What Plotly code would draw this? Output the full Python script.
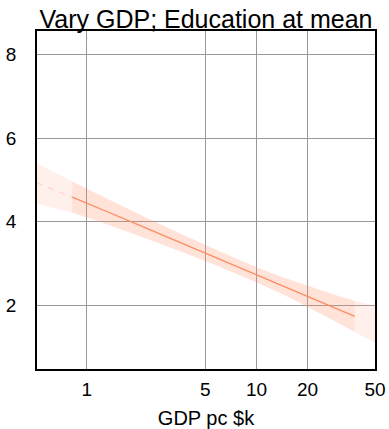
import plotly.graph_objects as go

# Predicted outcome across GDP per capita (thousand $), education held at its mean
gdp = [0.508, 0.82, 1.0, 1.3, 2.0, 3.0, 5.0, 7.0, 10.0, 14.0, 20.0, 28.0, 38.0, 50.0]
fit = [4.93, 4.59, 4.45, 4.25, 3.93, 3.63, 3.25, 3.00, 2.73, 2.48, 2.21, 1.96, 1.73, 1.53]
lower = [4.43, 4.22, 4.11, 3.94, 3.67, 3.41, 3.06, 2.82, 2.55, 2.28, 1.96, 1.65, 1.36, 1.10]
upper = [5.39, 4.96, 4.79, 4.56, 4.19, 3.85, 3.44, 3.18, 2.91, 2.68, 2.46, 2.27, 2.10, 1.99]

# Index range covered by observed data (outside it the fit is extrapolated)
obs_start, obs_end = 1, 12

x_ticks = [1, 5, 10, 20, 50]
y_ticks = [2, 4, 6, 8]

band_rgb = "252,141,98"
fig = go.Figure()

# Full-range confidence band (pale)
fig.add_trace(go.Scatter(x=gdp + gdp[::-1], y=upper + lower[::-1], fill="toself",
                         fillcolor=f"rgba({band_rgb},0.13)", line=dict(width=0),
                         mode="lines", hoverinfo="skip", showlegend=False))
# Observed-range band (deeper)
ox = gdp[obs_start:obs_end + 1]
fig.add_trace(go.Scatter(x=ox + ox[::-1],
                         y=upper[obs_start:obs_end + 1] + lower[obs_start:obs_end + 1][::-1],
                         fill="toself", fillcolor=f"rgba({band_rgb},0.13)", line=dict(width=0),
                         mode="lines", hoverinfo="skip", showlegend=False))
# Extrapolated fit (faint dashed)
for seg in (slice(0, obs_start + 1), slice(obs_end, len(gdp) - 1)):
    fig.add_trace(go.Scatter(x=gdp[seg], y=fit[seg], mode="lines",
                             line=dict(color=f"rgba({band_rgb},0.25)", width=1.5, dash="6px,6px"),
                             showlegend=False, hoverinfo="skip"))
# Fitted line over observed range
fig.add_trace(go.Scatter(x=ox, y=fit[obs_start:obs_end + 1], mode="lines",
                         line=dict(color=f"rgb({band_rgb})", width=1.3), showlegend=False))

font = "Liberation Sans, Arial, sans-serif"
fig.update_layout(
    width=389, height=429,
    margin=dict(l=37, r=14, t=31, b=60),
    paper_bgcolor="white", plot_bgcolor="white",
    font=dict(family=font, size=19, color="black"),
    title=dict(text="Vary GDP; Education at mean", x=0.5, xref="paper", xanchor="center",
               y=0.955, yref="container", yanchor="middle", font=dict(size=25)),
)
fig.update_xaxes(type="log", range=[-0.294, 1.699], tickvals=x_ticks,
                 ticktext=[str(v) for v in x_ticks], showgrid=True, gridcolor="#999999",
                 gridwidth=1, showline=True, linecolor="black", linewidth=1.5, mirror=True,
                 ticks="", ticklabelstandoff=2, zeroline=False, automargin=False,
                 title=dict(text="GDP pc $k", standoff=14, font=dict(size=20)))
fig.update_yaxes(range=[0.47, 8.57], tickvals=y_ticks, showgrid=True, gridcolor="#999999",
                 gridwidth=1, showline=True, linecolor="black", linewidth=1.5, mirror=True,
                 ticks="", ticklabelstandoff=15, zeroline=False, automargin=False)

fig.write_html("out.html")
